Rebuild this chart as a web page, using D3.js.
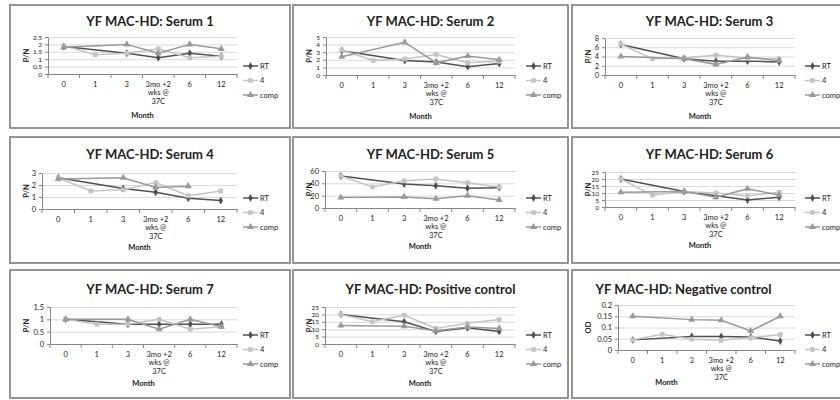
<!DOCTYPE html>
<html>
<head>
<meta charset="utf-8">
<script src="https://d3js.org/d3.v7.min.js"></script>
<style>
  body { margin: 0; background: #fff; }
  text { font-family: Lato, "Open Sans", sans-serif; fill: #222; }
</style>
</head>
<body>
<div id="chart"></div>
<script>
// shared x categories and series
var months = ["0", "1", "3", "3mo +2 wks @ 37C", "6", "12"];
var seriesNames = ["RT", "4", "comp"];

var titles = ["YF MAC-HD: Serum 1", "YF MAC-HD: Serum 2", "YF MAC-HD: Serum 3",
              "YF MAC-HD: Serum 4", "YF MAC-HD: Serum 5", "YF MAC-HD: Serum 6",
              "YF MAC-HD: Serum 7", "YF MAC-HD: Positive control", "YF MAC-HD: Negative control"];
var yTitles = ["P/N", "P/N", "P/N", "P/N", "P/N", "P/N", "P/N", "P/N", "OD"];
var yMax = [2.5, 5, 8, 3, 60, 25, 1.5, 25, 0.2];
var yTickCount = [5, 5, 4, 3, 3, 5, 3, 5, 4];

// values per panel, null = no reading
var rtValues = [
  [1.85, null, 1.4, 1.1, 1.4, 1.2],
  [3.2, null, 1.9, 1.7, 1.1, 1.5],
  [6.6, null, 3.5, 3.0, 3.0, 2.8],
  [2.6, null, 1.7, 1.4, 0.9, 0.7],
  [52, null, 39, 36, 32, 33],
  [20, null, 11, 8, 5, 7],
  [1.0, null, 0.8, 0.8, 0.8, 0.8],
  [20, null, 15, 8.5, 11, 8.5],
  [0.045, null, 0.06, 0.06, 0.058, 0.04]
];
var fourValues = [
  [1.9, 1.3, 1.4, 1.7, 1.1, 1.2],
  [3.3, 1.9, 2.1, 2.7, 1.6, 1.8],
  [6.7, 3.5, 3.7, 4.3, 3.6, 3.5],
  [2.6, 1.5, 1.6, 2.2, 1.1, 1.5],
  [52, 34, 44, 47, 41, 34],
  [20, 8.5, 11, 10, 8, 10.5],
  [1.0, 0.8, 0.8, 1.0, 0.6, 0.7],
  [20, 15, 19.5, 10.5, 14, 16.5],
  [0.045, 0.07, 0.048, 0.043, 0.055, 0.068]
];
var compValues = [
  [1.8, null, 2.0, 1.4, 2.0, 1.7],
  [2.4, null, 4.3, 1.6, 2.5, 2.0],
  [4.0, null, 3.5, 2.3, 3.9, 3.1],
  [2.5, null, 2.6, 1.8, 1.9, null],
  [17, null, 18, 15, 20, 13],
  [10.5, null, 11, 7, 13, 8.5],
  [1.0, null, 1.0, 0.6, 1.0, 0.7],
  [12.5, null, 12, 9, 11.5, 10.5],
  [0.15, null, 0.135, 0.132, 0.085, 0.15]
];

// layout
var width = 840, height = 400;
var colX = [10, 293, 572], colW = [280, 275, 275];
var rowY = [5, 137, 270], rowH = [123, 126, 128];
var plotLeft = [38, 33, 33, 32, 32, 33, 40, 32, 46];
var plotRight = [227, 222, 223];
var plotTop = [37, 37, 38, 173, 171, 172, 307, 307, 305];
var plotBottom = [74, 75, 75, 209, 208, 207, 344, 344, 350];
var titleY = [26, 159, 294];
var legendY = [66, 198, 335];
var titleDx = [0, 0, 0, 0, 0, 0, 0, 0, -26];
var monthDx = [0, 0, 0, 0, 0, 0, 0, 0, -40];
var monthDy = [41, 41, 41, 38, 38, 38, 39, 39, 32];

var colors = ["#505050", "#c4c4c4", "#9a9a9a"];
var symbols = [d3.symbolDiamond, d3.symbolSquare, d3.symbolTriangle];
var symSize = [18, 22, 22];

var svg = d3.select("#chart").append("svg")
    .attr("width", width).attr("height", height);

function splitLabel(s) {
  return s.split(/(?<=\+2) |(?<=@) /);
}

titles.forEach(function (title, i) {
  var col = i % 3, row = Math.floor(i / 3);
  var bx = colX[col], by = rowY[row], bw = colW[col], bh = rowH[row];
  var g = svg.append("g");

  g.append("rect")
    .attr("x", bx).attr("y", by).attr("width", bw).attr("height", bh)
    .attr("fill", "#fff").attr("stroke", "#8a8a8a").attr("stroke-width", 1.8);

  var x0 = bx + plotLeft[i], x1 = bx + plotRight[col];
  var x = d3.scaleBand().domain(months).range([x0, x1]);
  var y = d3.scaleLinear().domain([0, yMax[i]]).range([plotBottom[i], plotTop[i]]);
  var ticks = d3.ticks(0, yMax[i], yTickCount[i]);
  var tickGap = (plotBottom[i] - plotTop[i]) / (ticks.length - 1);
  var yFont = tickGap < 8 ? "6.5px" : "7.5px";

  // title
  g.append("text")
    .attr("x", bx + bw / 2 + titleDx[i]).attr("y", titleY[row])
    .attr("text-anchor", "middle")
    .style("font-size", "13px").style("font-weight", "bold")
    .text(title);

  // gridlines
  g.append("g")
    .attr("transform", "translate(" + x0 + ",0)")
    .call(d3.axisLeft(y).tickValues(ticks).tickSize(-(x1 - x0)).tickFormat(""))
    .call(function (a) {
      a.select(".domain").remove();
      a.selectAll("line").attr("stroke", "#d9d9d9");
    });

  // y axis
  g.append("g")
    .attr("transform", "translate(" + x0 + ",0)")
    .call(d3.axisLeft(y).tickValues(ticks).tickSize(3).tickSizeOuter(0).tickPadding(3)
      .tickFormat(d3.format("~g")))
    .call(function (a) {
      a.select(".domain").attr("stroke", "#868686");
      a.selectAll("line").attr("stroke", "#868686");
      a.selectAll("text").style("font-size", yFont).attr("fill", "#222");
    });

  // x axis, labels drawn line by line
  var xa = g.append("g")
    .attr("transform", "translate(0," + plotBottom[i] + ")")
    .call(d3.axisBottom(x).tickSize(0).tickSizeOuter(0));
  xa.select(".domain").attr("stroke", "#868686");
  xa.selectAll(".tick").each(function (d) {
    var tk = d3.select(this);
    tk.select("text").remove();
    splitLabel(d).forEach(function (l, k) {
      tk.append("text")
        .attr("y", 10 + k * 8.5).attr("dy", "0.35em")
        .attr("text-anchor", "middle")
        .style("font-size", "7.5px").attr("fill", "#222")
        .text(l);
    });
  });
  // category boundary ticks
  var bounds = months.map(function (m) { return x(m); }).concat([x.range()[1]]);
  xa.selectAll(".bnd").data(bounds).enter().append("line")
    .attr("x1", function (d) { return d; }).attr("x2", function (d) { return d; })
    .attr("y1", 0).attr("y2", 4).attr("stroke", "#868686");

  // axis titles
  g.append("text")
    .attr("transform", "translate(" + (bx + 16) + "," + ((plotTop[i] + plotBottom[i]) / 2) + ") rotate(-90)")
    .attr("text-anchor", "middle").attr("dy", "0.35em")
    .style("font-size", "7.5px").style("font-weight", "bold")
    .text(yTitles[i]);
  g.append("text")
    .attr("x", (x0 + x1) / 2 + monthDx[i]).attr("y", plotBottom[i] + monthDy[i])
    .attr("text-anchor", "middle").attr("dy", "0.35em")
    .style("font-size", "7.5px").style("font-weight", "bold")
    .text("Month");

  // series
  var data = [rtValues[i], fourValues[i], compValues[i]];
  var line = d3.line()
    .x(function (d) { return x(d.m) + x.bandwidth() / 2; })
    .y(function (d) { return y(d.v); });
  data.forEach(function (vals, s) {
    var pts = vals.map(function (v, k) { return { m: months[k], v: v }; })
      .filter(function (d) { return d.v !== null; });
    g.append("path").datum(pts)
      .attr("fill", "none").attr("stroke", colors[s]).attr("stroke-width", 1.5)
      .attr("d", line);
    g.selectAll(".mk" + s).data(pts).enter().append("path")
      .attr("transform", function (d) {
        return "translate(" + (x(d.m) + x.bandwidth() / 2) + "," + y(d.v) + ")";
      })
      .attr("d", d3.symbol().type(symbols[s]).size(symSize[s]))
      .attr("fill", colors[s]);
  });

  // legend
  var lx = bx + 233;
  seriesNames.forEach(function (name, s) {
    var ly = legendY[row] + s * 14.5;
    g.append("line").attr("x1", lx).attr("x2", lx + 15).attr("y1", ly).attr("y2", ly)
      .attr("stroke", colors[s]).attr("stroke-width", 1.5);
    g.append("path").attr("transform", "translate(" + (lx + 7.5) + "," + ly + ")")
      .attr("d", d3.symbol().type(symbols[s]).size(symSize[s])).attr("fill", colors[s]);
    g.append("text").attr("x", lx + 17).attr("y", ly).attr("dy", "0.35em")
      .style("font-size", "7.5px").text(name);
  });
});
</script>
</body>
</html>
